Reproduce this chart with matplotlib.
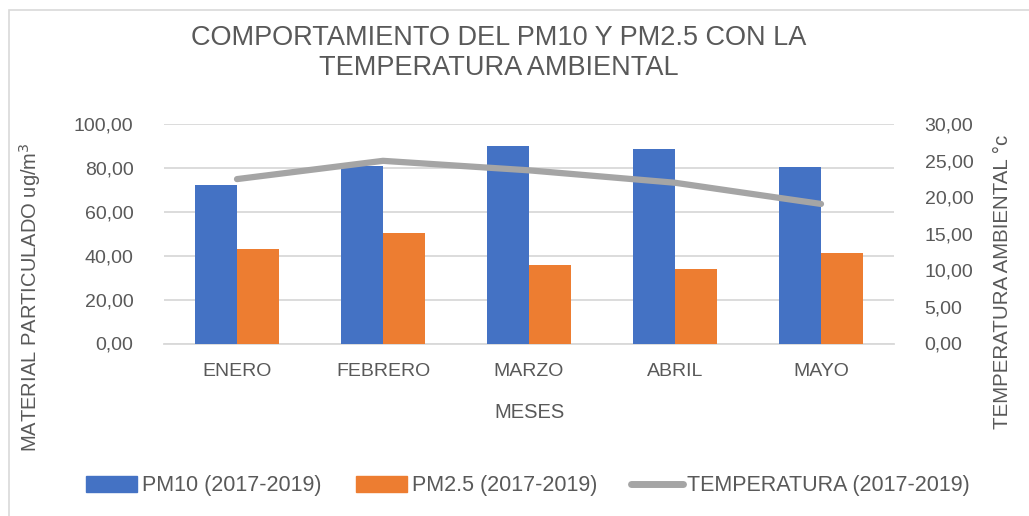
import matplotlib
matplotlib.use("Agg")
import matplotlib.pyplot as plt
from matplotlib.patches import Rectangle
from matplotlib.lines import Line2D
from matplotlib.ticker import FuncFormatter
import numpy as np

months = ["ENERO", "FEBRERO", "MARZO", "ABRIL", "MAYO"]
pm10 = [72.1, 81.0, 90.0, 88.7, 80.7]
pm25 = [43.0, 50.3, 35.9, 33.8, 41.1]
temperature = [22.5, 25.0, 23.7, 22.0, 19.1]

left_ticks = [0, 20, 40, 60, 80, 100]
right_ticks = [0, 5, 10, 15, 20, 25, 30]

BLUE = "#4472C4"
ORANGE = "#ED7D31"
GRAY = "#A5A5A5"
TEXT = "#595959"
GRID = "#D9D9D9"

plt.rcParams["font.family"] = ["Liberation Sans", "DejaVu Sans"]

fig = plt.figure(figsize=(10.29, 5.16), dpi=100)
W, H = 1029, 516

# chart frame (runs past the right and bottom edges)
fig.patches.append(Rectangle((9 / W, -0.2), 1.2, 1.2 - 10 / H, transform=fig.transFigure,
                             fill=False, edgecolor=GRID, linewidth=1.2))

ax = fig.add_axes([164 / W, 1 - 343.5 / H, (894 - 164) / W, (343.5 - 124.3) / H])
ax2 = ax.twinx()

x = np.arange(len(months))
bw = 0.288
ax.bar(x - bw / 2, pm10, bw, color=BLUE, zorder=3)
ax.bar(x + bw / 2, pm25, bw, color=ORANGE, zorder=3)
ax2.plot(x, temperature, color=GRAY, linewidth=4.5, solid_capstyle="round", zorder=4)

ax.set_xlim(-0.5, len(months) - 0.5)
ax.set_ylim(0, 100)
ax2.set_ylim(0, 30)
ax.set_yticks(left_ticks)
ax2.set_yticks(right_ticks)
fmt = FuncFormatter(lambda v, p: f"{v:.2f}".replace(".", ","))
ax.yaxis.set_major_formatter(fmt)
ax2.yaxis.set_major_formatter(fmt)
ax.set_xticks(x)
ax.set_xticklabels(months)

ax.grid(axis="y", color=GRID, linewidth=1.3, zorder=0)
ax.set_axisbelow(True)
for a in (ax, ax2):
    for s in a.spines.values():
        s.set_visible(False)
    a.tick_params(length=0, colors=TEXT, labelsize=14)
ax.spines["bottom"].set_visible(True)
ax.spines["bottom"].set_color(GRID)
ax.spines["bottom"].set_linewidth(1.3)
ax.tick_params(axis="y", pad=22)
ax.tick_params(axis="x", pad=14)
ax2.tick_params(axis="y", pad=22)

fig.text(499 / W, 1 - 38 / H, "COMPORTAMIENTO DEL PM10 Y PM2.5 CON LA",
         ha="center", va="center", fontsize=19.5, color=TEXT)
fig.text(499 / W, 1 - 68 / H, "TEMPERATURA AMBIENTAL",
         ha="center", va="center", fontsize=19.5, color=TEXT)

fig.text(530 / W, 1 - 412 / H, "MESES", ha="center", va="center", fontsize=14.5, color=TEXT)
fig.text(30 / W, 1 - 297 / H, "MATERIAL PARTICULADO ug/m$^3$", rotation=90,
         ha="center", va="center", fontsize=14.5, color=TEXT)
fig.text(1002 / W, 1 - 282 / H, "TEMPERATURA AMBIENTAL °c", rotation=90,
         ha="center", va="center", fontsize=14.8, color=TEXT)

handles = [Rectangle((0, 0), 1, 1, color=BLUE),
           Rectangle((0, 0), 1, 1, color=ORANGE),
           Line2D([0], [0], color=GRAY, linewidth=5, solid_capstyle="round")]
labels = ["PM10 (2017-2019)", "PM2.5 (2017-2019)", "TEMPERATURA (2017-2019)"]
fig.legend(handles, labels, loc="center", bbox_to_anchor=(528 / W, 1 - 486 / H), ncol=3,
           frameon=False, fontsize=15.5, labelcolor=TEXT, handlelength=2.4,
           handleheight=0.75, handletextpad=0.2, columnspacing=1.6)

fig.savefig("out.png", dpi=100, facecolor="white")
